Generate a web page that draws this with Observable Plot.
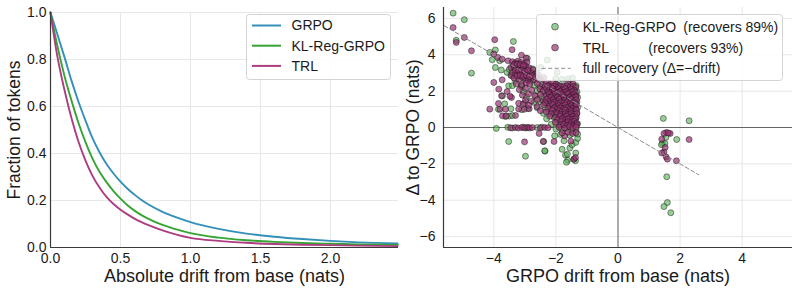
<!DOCTYPE html>
<html>
<head>
<meta charset="utf-8">
<script src="https://cdn.jsdelivr.net/npm/d3@7"></script>
<script src="https://cdn.jsdelivr.net/npm/@observablehq/plot@0.6"></script>
<style>
  body { margin: 0; background: #fff; }
  #wrap { display: flex; width: 798px; height: 291px; }
  svg { font-family: "Liberation Sans", Arial, sans-serif; }
</style>
</head>
<body>
<div id="wrap"></div>
<script>
// ---- Left panel: survival curves of absolute per-token drift ----
const driftGrid = [0, 0.05, 0.1, 0.15, 0.2, 0.25, 0.3, 0.35, 0.4, 0.45, 0.5, 0.55, 0.6, 0.65, 0.7, 0.8, 0.9, 1.0, 1.2, 1.4, 1.6, 1.8, 2.0, 2.2, 2.48];
const grpoFrac = [1.0, 0.905, 0.81, 0.71, 0.62, 0.54, 0.465, 0.405, 0.355, 0.315, 0.28, 0.25, 0.225, 0.202, 0.183, 0.152, 0.128, 0.108, 0.079, 0.059, 0.046, 0.036, 0.028, 0.022, 0.017];
const klFrac   = [1.0, 0.855, 0.73, 0.625, 0.53, 0.448, 0.378, 0.322, 0.278, 0.24, 0.208, 0.18, 0.157, 0.138, 0.122, 0.096, 0.077, 0.061, 0.042, 0.031, 0.024, 0.019, 0.016, 0.013, 0.011];
const trlFrac  = [1.0, 0.81, 0.67, 0.55, 0.45, 0.37, 0.305, 0.255, 0.215, 0.185, 0.161, 0.141, 0.123, 0.108, 0.095, 0.073, 0.055, 0.041, 0.028, 0.02, 0.015, 0.012, 0.01, 0.008, 0.006];
const seriesNames = ["GRPO", "KL-Reg-GRPO", "TRL"];
const seriesColors = ["#3490b9", "#35a435", "#ad3d80"];
const leftXTicks = [0, 0.5, 1.0, 1.5, 2.0];
const leftYTicks = [0, 0.2, 0.4, 0.6, 0.8, 1.0];

// ---- Right panel: per-token GRPO drift vs. change relative to GRPO ----
const klPoints = [
  [-5.31,6.29],[-4.95,5.93],[-5.21,4.80],[-4.72,2.99],[-4.13,4.13],[-3.95,4.26],[-3.37,4.73],[-4.05,3.73],
  [-3.95,3.30],[-3.76,3.16],[-3.57,3.03],[-3.81,3.67],[-2.92,3.80],[-3.52,2.29],[-3.11,2.29],[-3.72,1.74],
  [-3.92,-0.05],[-3.52,-0.77],[-2.98,-1.58],[-2.35,-1.30],[-2.39,-0.77],
  [-2.49,3.30],[-2.28,3.71],[-2.00,2.67],[-1.80,2.65],[-1.60,2.68],[-1.96,3.03],[-1.47,2.72],
  [-3.55,0.01],[-3.40,-0.03],[-3.05,0.02],[-2.95,-0.02],[-2.60,0.00],[-2.45,0.02],
  [-3.50,0.63],[-3.40,0.66],[-3.62,0.60],[-3.85,1.00],[-3.45,1.03],[-3.10,0.98],[-2.90,1.05],[-3.65,1.30],[-3.00,1.34],
  [-2.04,-0.46],[-2.36,-1.28],[-1.74,-0.73],[-1.55,-1.13],[-1.80,-1.20],[-1.69,-1.52],[-1.36,-1.40],[-1.62,-1.80],
  [-1.36,-0.82],[-1.63,-1.47],[-1.42,-1.74],[-1.37,-1.83],[-1.66,-1.91],[-1.48,-0.95],[-1.30,-0.60],
  [-3.35,3.48],[-3.20,3.55],[-3.00,3.42],
  [-3.50,3.20],[-3.30,3.15],[-3.10,3.25],[-2.90,3.12],[-2.75,3.22],
  [-3.45,2.88],[-3.25,2.95],[-2.95,2.85],[-2.70,2.93],[-2.55,2.86],
  [-3.30,2.58],[-3.00,2.64],[-2.80,2.55],[-2.55,2.62],
  [-3.40,2.30],[-3.10,2.25],[-2.70,2.33],[-2.50,2.27],[-2.35,2.35],[-2.15,2.26],[-1.95,2.34],[-1.75,2.28],[-1.55,2.36],[-1.35,2.30],
  [-3.05,1.98],[-2.60,2.03],[-2.40,1.95],[-2.25,2.04],[-2.05,1.96],[-1.85,2.02],[-1.65,1.94],[-1.45,2.03],[-1.32,1.97],
  [-2.95,1.68],[-2.65,1.73],[-2.45,1.66],[-2.20,1.72],[-2.00,1.65],[-1.80,1.71],[-1.60,1.67],[-1.42,1.73],[-1.30,1.66],
  [-2.70,1.38],[-2.50,1.42],[-2.30,1.35],[-2.10,1.41],[-1.90,1.37],[-1.70,1.43],[-1.50,1.36],[-1.32,1.40],
  [-2.60,1.08],[-2.35,1.12],[-2.15,1.05],[-1.95,1.11],[-1.75,1.07],[-1.55,1.13],[-1.40,1.06],[-1.30,1.10],
  [-2.40,0.78],[-2.20,0.83],[-2.00,0.76],[-1.80,0.82],[-1.60,0.77],[-1.45,0.84],[-1.32,0.79],
  [-2.30,0.48],[-2.05,0.53],[-1.90,0.46],[-1.70,0.52],[-1.50,0.47],[-1.35,0.53],
  [-2.15,0.18],[-1.95,0.23],[-1.75,0.16],[-1.60,0.22],[-1.42,0.17],[-1.30,0.21],
  [-2.00,-0.08],[-1.80,-0.12],[-1.65,-0.06],[-1.50,-0.13],[-1.35,-0.09],
  [-1.85,-0.38],[-1.55,-0.42],[-1.30,-0.36],
  [1.46,0.50],[2.29,0.37],[1.54,-0.55],[1.89,-0.66],[1.43,-0.88],[1.51,-0.88],[1.40,-0.95],
  [1.57,-2.71],[1.59,-4.13],[1.48,-4.35],[1.70,-4.69]
];
const trlPoints = [
  [-5.31,5.50],[-5.21,4.68],[-4.95,4.95],[-4.72,4.22],[-3.97,4.83],[-3.41,4.28],[-4.00,4.04],[-3.87,3.85],
  [-3.73,3.76],[-3.54,3.67],[-3.11,3.98],[-2.96,3.82],[-4.00,2.48],[-3.73,2.62],[-3.84,2.11],[-3.43,2.85],
  [-3.57,1.98],[-3.43,1.65],[-4.13,1.01],[-3.85,1.32],[-3.80,1.00],[-3.62,1.01],[-3.72,0.64],[-3.60,0.64],
  [-3.30,0.66],[-3.20,1.02],[-3.02,1.00],[-2.86,1.03],[-3.20,1.33],[-3.05,1.30],[-3.75,1.74],[-3.48,1.72],
  [-3.46,-0.02],[-3.30,0.00],[-3.21,-0.03],[-3.10,0.00],[-3.00,-0.02],[-2.90,0.01],[-2.84,-0.03],[-2.76,0.00],
  [-2.50,-0.02],[-2.36,0.00],[-2.25,-0.01],
  [-2.54,-0.33],[-3.01,-0.79],[-2.41,-0.77],[-2.06,-0.77],[-1.52,-0.75],[-1.72,-0.46],[-1.42,-1.74],[-1.37,-1.65],
  [-3.40,3.62],[-3.31,3.55],[-3.22,3.66],[-3.12,3.58],[-3.03,3.50],[-2.93,3.60],
  [-3.45,3.30],[-3.36,3.38],[-3.26,3.25],[-3.16,3.33],[-3.06,3.22],[-2.96,3.35],[-2.86,3.28],[-2.74,3.18],
  [-3.40,3.02],[-3.30,2.95],[-3.21,3.08],[-3.10,2.98],[-3.00,3.04],[-2.91,2.92],[-2.80,3.00],[-2.69,2.90],[-2.60,2.98],
  [-3.35,2.72],[-3.19,2.65],[-3.09,2.76],[-2.98,2.68],[-2.89,2.60],[-2.79,2.73],[-2.70,2.64],[-2.58,2.70],[-2.49,2.62],[-2.39,2.75],
  [-3.35,3.45],[-3.25,3.48],[-3.15,3.45],[-3.05,3.40],[-3.30,3.15],[-3.20,3.12],[-3.10,3.15],[-3.00,3.10],[-2.90,3.14],
  [-3.25,2.85],[-3.15,2.88],[-3.05,2.83],[-2.95,2.86],[-2.85,2.80],[-2.75,2.84],[-2.65,2.78],
  [-3.28,2.40],[-3.10,2.35],[-2.95,2.45],[-2.84,2.38],[-2.60,2.42],[-2.42,2.33],[-2.31,2.44],[-2.20,2.36],[-2.10,2.46],[-2.00,2.38],[-1.90,2.30],[-1.62,2.45],[-1.45,2.40],
  [-2.35,2.24],[-2.25,2.28],[-2.15,2.22],[-2.05,2.27],[-1.95,2.21],[-1.85,2.26],[-1.75,2.23],[-1.65,2.29],[-1.55,2.22],[-1.44,2.27],[-1.36,2.21],
  [-3.18,2.08],[-2.98,2.15],[-2.78,2.05],[-2.52,2.12],[-2.41,2.02],[-2.30,2.14],[-2.21,2.06],[-2.10,2.16],[-2.01,2.04],[-1.91,2.12],[-1.80,2.06],[-1.70,2.14],[-1.60,2.03],[-1.50,2.11],[-1.40,2.05],
  [-2.26,1.95],[-2.16,1.92],[-2.06,1.98],[-1.96,1.93],[-1.86,1.97],[-1.76,1.91],[-1.66,1.96],[-1.56,1.92],[-1.46,1.98],[-1.37,1.93],
  [-3.08,1.78],[-2.88,1.84],[-2.68,1.75],[-2.50,1.82],[-2.31,1.76],[-2.22,1.85],[-2.11,1.78],[-2.02,1.86],[-1.92,1.74],[-1.81,1.83],[-1.71,1.77],[-1.61,1.85],[-1.51,1.75],[-1.42,1.82],[-1.35,1.74],
  [-2.25,1.64],[-2.15,1.68],[-2.05,1.62],[-1.95,1.67],[-1.85,1.63],[-1.75,1.68],[-1.65,1.61],[-1.55,1.66],[-1.45,1.63],[-1.36,1.67],
  [-2.98,1.50],[-2.79,1.45],[-2.60,1.53],[-2.41,1.47],[-2.30,1.55],[-2.20,1.44],[-2.09,1.52],[-1.99,1.46],[-1.89,1.55],[-1.80,1.43],[-1.70,1.51],[-1.60,1.47],[-1.50,1.56],[-1.41,1.44],[-1.34,1.52],
  [-2.35,1.36],[-2.15,1.33],[-2.05,1.38],[-1.95,1.32],[-1.85,1.37],[-1.75,1.34],[-1.65,1.38],[-1.55,1.31],[-1.45,1.36],[-1.36,1.33],
  [-2.88,1.22],[-2.61,1.15],[-2.40,1.25],[-2.21,1.18],[-2.10,1.26],[-2.00,1.14],[-1.90,1.22],[-1.80,1.17],[-1.70,1.25],[-1.60,1.13],[-1.50,1.21],[-1.41,1.16],[-1.34,1.24],
  [-2.25,1.04],[-2.05,1.07],[-1.95,1.02],[-1.85,1.06],[-1.75,1.03],[-1.65,1.08],[-1.55,1.01],[-1.45,1.05],[-1.36,1.02],
  [-2.50,0.92],[-2.31,0.86],[-2.12,0.95],[-2.00,0.84],[-1.90,0.93],[-1.80,0.87],[-1.70,0.96],[-1.60,0.85],[-1.50,0.92],[-1.41,0.88],[-1.34,0.95],
  [-2.15,0.74],[-1.95,0.77],[-1.85,0.72],[-1.70,0.76],[-1.60,0.71],[-1.50,0.77],[-1.40,0.73],[-1.33,0.76],
  [-2.20,0.62],[-2.01,0.55],[-1.86,0.64],[-1.75,0.57],[-1.65,0.63],[-1.55,0.54],[-1.45,0.61],[-1.35,0.58],
  [-1.95,0.44],[-1.80,0.47],[-1.70,0.42],[-1.60,0.46],[-1.48,0.43],[-1.38,0.47],
  [-2.02,0.28],[-1.82,0.33],[-1.70,0.25],[-1.60,0.31],[-1.50,0.27],[-1.40,0.34],[-1.34,0.24],
  [-1.85,0.14],[-1.75,0.17],[-1.64,0.12],[-1.52,0.16],[-1.43,0.11],[-1.33,0.15],
  [-1.90,0.02],[-1.71,-0.04],[-1.56,0.05],[-1.45,-0.02],[-1.35,0.03],
  [-1.80,-0.30],[-1.61,-0.26],[-1.46,-0.33],[-1.35,-0.28],
  [1.56,-0.27],[1.68,-0.33],[1.48,-0.33],[1.41,-0.64],[2.29,-0.66],[1.52,-1.10],[1.48,-1.35],[1.41,-1.40],
  [1.55,-1.62],[1.59,-1.74],[1.88,-1.83],[1.62,-0.30]
];
const scatterNames = ["KL-Reg-GRPO", "TRL"];
const recoversPct = [89, 93];
const scatterFill = ["#55b055", "#9a3374"];
const scatterOpacity = [0.62, 0.7];
const recoveryDrift = [-5.6, 2.6];      // extent of the Δ = −drift reference line
const rightTicks = [-4, -2, 0, 2, 4];
const rightYTicks = [-6, -4, -2, 0, 2, 4, 6];

const font = '"Liberation Sans", Arial, sans-serif';
const grid = "#e7e7e7";
const spine = "#3a3a3a";

// ---------- left chart ----------
const fracs = [grpoFrac, klFrac, trlFrac];
const curves = seriesNames.flatMap((name, i) => driftGrid.map((x, j) => ({name, x, y: fracs[i][j]})));

const left = Plot.plot({
  width: 400, height: 291,
  marginLeft: 50, marginRight: 2, marginTop: 12, marginBottom: 44,
  style: {fontFamily: font, fontSize: "14px", color: "#1a1a1a", background: "white"},
  x: {domain: [0, 2.486], label: null},
  y: {domain: [0, 1], label: null},
  color: {domain: seriesNames, range: seriesColors},
  marks: [
    Plot.gridX(leftXTicks, {stroke: grid, strokeOpacity: 1}),
    Plot.gridY(leftYTicks, {stroke: grid, strokeOpacity: 1}),
    Plot.axisX(leftXTicks, {tickSize: 0, tickPadding: 6, tickFormat: d3.format(".1f"), fontSize: 14, label: null}),
    Plot.axisY(leftYTicks, {tickSize: 0, tickPadding: 4, tickFormat: d3.format(".1f"), fontSize: 14, label: null}),
    Plot.line(curves, {x: "x", y: "y", z: "name", stroke: "name", strokeWidth: 1.9, curve: "monotone-x"}),
    Plot.ruleX([0], {stroke: spine, strokeWidth: 1.2}),
    Plot.ruleY([0], {stroke: spine, strokeWidth: 1.2}),
    Plot.text(["Absolute drift from base (nats)"], {frameAnchor: "bottom", lineAnchor: "middle", textAnchor: "middle", dy: 29, fontSize: 18}),
    Plot.text(["Fraction of tokens"], {frameAnchor: "left", lineAnchor: "middle", textAnchor: "middle", rotate: -90, dx: -36, fontSize: 17.5})
  ]
});

// legend for the curves
{
  const g = d3.select(left).append("g")
    .attr("font-family", font).attr("font-size", 14).attr("text-anchor", "start").attr("fill", "#1a1a1a");
  g.append("rect").attr("x", 246.5).attr("y", 14.5).attr("width", 144).attr("height", 65)
    .attr("rx", 3).attr("fill", "white").attr("fill-opacity", 0.85).attr("stroke", "#d4d4d4");
  seriesNames.forEach((name, i) => {
    const y = 25.5 + 20.2 * i;
    g.append("line").attr("x1", 252).attr("x2", 281).attr("y1", y).attr("y2", y)
      .attr("stroke", seriesColors[i]).attr("stroke-width", 2);
    g.append("text").attr("x", 291.5).attr("y", y).attr("dy", "0.35em").text(name);
  });
}

// ---------- right chart ----------
const toRows = (pts, name) => pts.map(([x, y]) => ({name, x, y}));
const recovery = recoveryDrift.map(x => ({x, y: -x}));
const dotStyle = i => ({x: "x", y: "y", r: 3, fill: scatterFill[i], fillOpacity: scatterOpacity[i],
                         stroke: "#141414", strokeOpacity: 0.68, strokeWidth: 0.7});

const right = Plot.plot({
  width: 398, height: 291,
  marginLeft: 43, marginRight: 6, marginTop: 7, marginBottom: 44,
  style: {fontFamily: font, fontSize: "14px", color: "#1a1a1a", background: "white"},
  x: {domain: [-5.62, 5.62], label: null},
  y: {domain: [-6.6, 6.6], label: null},
  marks: [
    Plot.gridX(rightTicks, {stroke: grid, strokeOpacity: 1}),
    Plot.gridY(rightYTicks, {stroke: grid, strokeOpacity: 1}),
    Plot.axisX(rightTicks, {tickSize: 0, tickPadding: 6, tickFormat: d3.format("d"), fontSize: 14, label: null}),
    Plot.axisY(rightYTicks, {tickSize: 0, tickPadding: 8, tickFormat: d3.format("d"), fontSize: 14, label: null}),
    Plot.ruleY([0], {stroke: "#666", strokeWidth: 1}),
    Plot.ruleX([0], {stroke: "#666", strokeWidth: 1}),
    Plot.dot(toRows(klPoints, scatterNames[0]), dotStyle(0)),
    Plot.dot(toRows(trlPoints, scatterNames[1]), dotStyle(1)),
    Plot.line(recovery, {x: "x", y: "y", stroke: "#8c8c8c", strokeWidth: 1, strokeDasharray: "4,2.5"}),
    Plot.ruleX([-5.62], {stroke: spine, strokeWidth: 1.2}),
    Plot.ruleY([-6.6], {stroke: spine, strokeWidth: 1.2}),
    Plot.text(["GRPO drift from base (nats)"], {frameAnchor: "bottom", lineAnchor: "middle", textAnchor: "middle", dy: 29, fontSize: 18}),
    Plot.text(["Δ to GRPO (nats)"], {frameAnchor: "left", lineAnchor: "middle", textAnchor: "middle", rotate: -90, dx: -30, fontSize: 17.5})
  ]
});

// legend for the scatter
{
  const g = d3.select(right).append("g")
    .attr("font-family", font).attr("font-size", 14).attr("text-anchor", "start").attr("fill", "#1a1a1a");
  g.append("rect").attr("x", 136.5).attr("y", 14.5).attr("width", 246).attr("height", 66)
    .attr("rx", 3).attr("fill", "white").attr("fill-opacity", 0.8).attr("stroke", "#d4d4d4");
  const rows = [26.7, 47.6, 68.3];
  const noteX = [283.3, 248.3];
  scatterNames.forEach((name, i) => {
    g.append("circle").attr("cx", 155).attr("cy", rows[i]).attr("r", 3.4)
      .attr("fill", scatterFill[i]).attr("fill-opacity", scatterOpacity[i])
      .attr("stroke", "#141414").attr("stroke-opacity", 0.68).attr("stroke-width", 0.7);
    g.append("text").attr("x", 182.7).attr("y", rows[i]).attr("dy", "0.35em").text(name);
    g.append("text").attr("x", noteX[i]).attr("y", rows[i]).attr("dy", "0.35em").text(`(recovers ${recoversPct[i]}%)`);
  });
  g.append("line").attr("x1", 141.7).attr("x2", 170.7).attr("y1", rows[2]).attr("y2", rows[2])
    .attr("stroke", "#8c8c8c").attr("stroke-width", 1).attr("stroke-dasharray", "4,2.5");
  g.append("text").attr("x", 182.7).attr("y", rows[2]).attr("dy", "0.35em").text("full recovery (Δ=−drift)");
}

document.getElementById("wrap").append(left, right);
</script>
</body>
</html>
